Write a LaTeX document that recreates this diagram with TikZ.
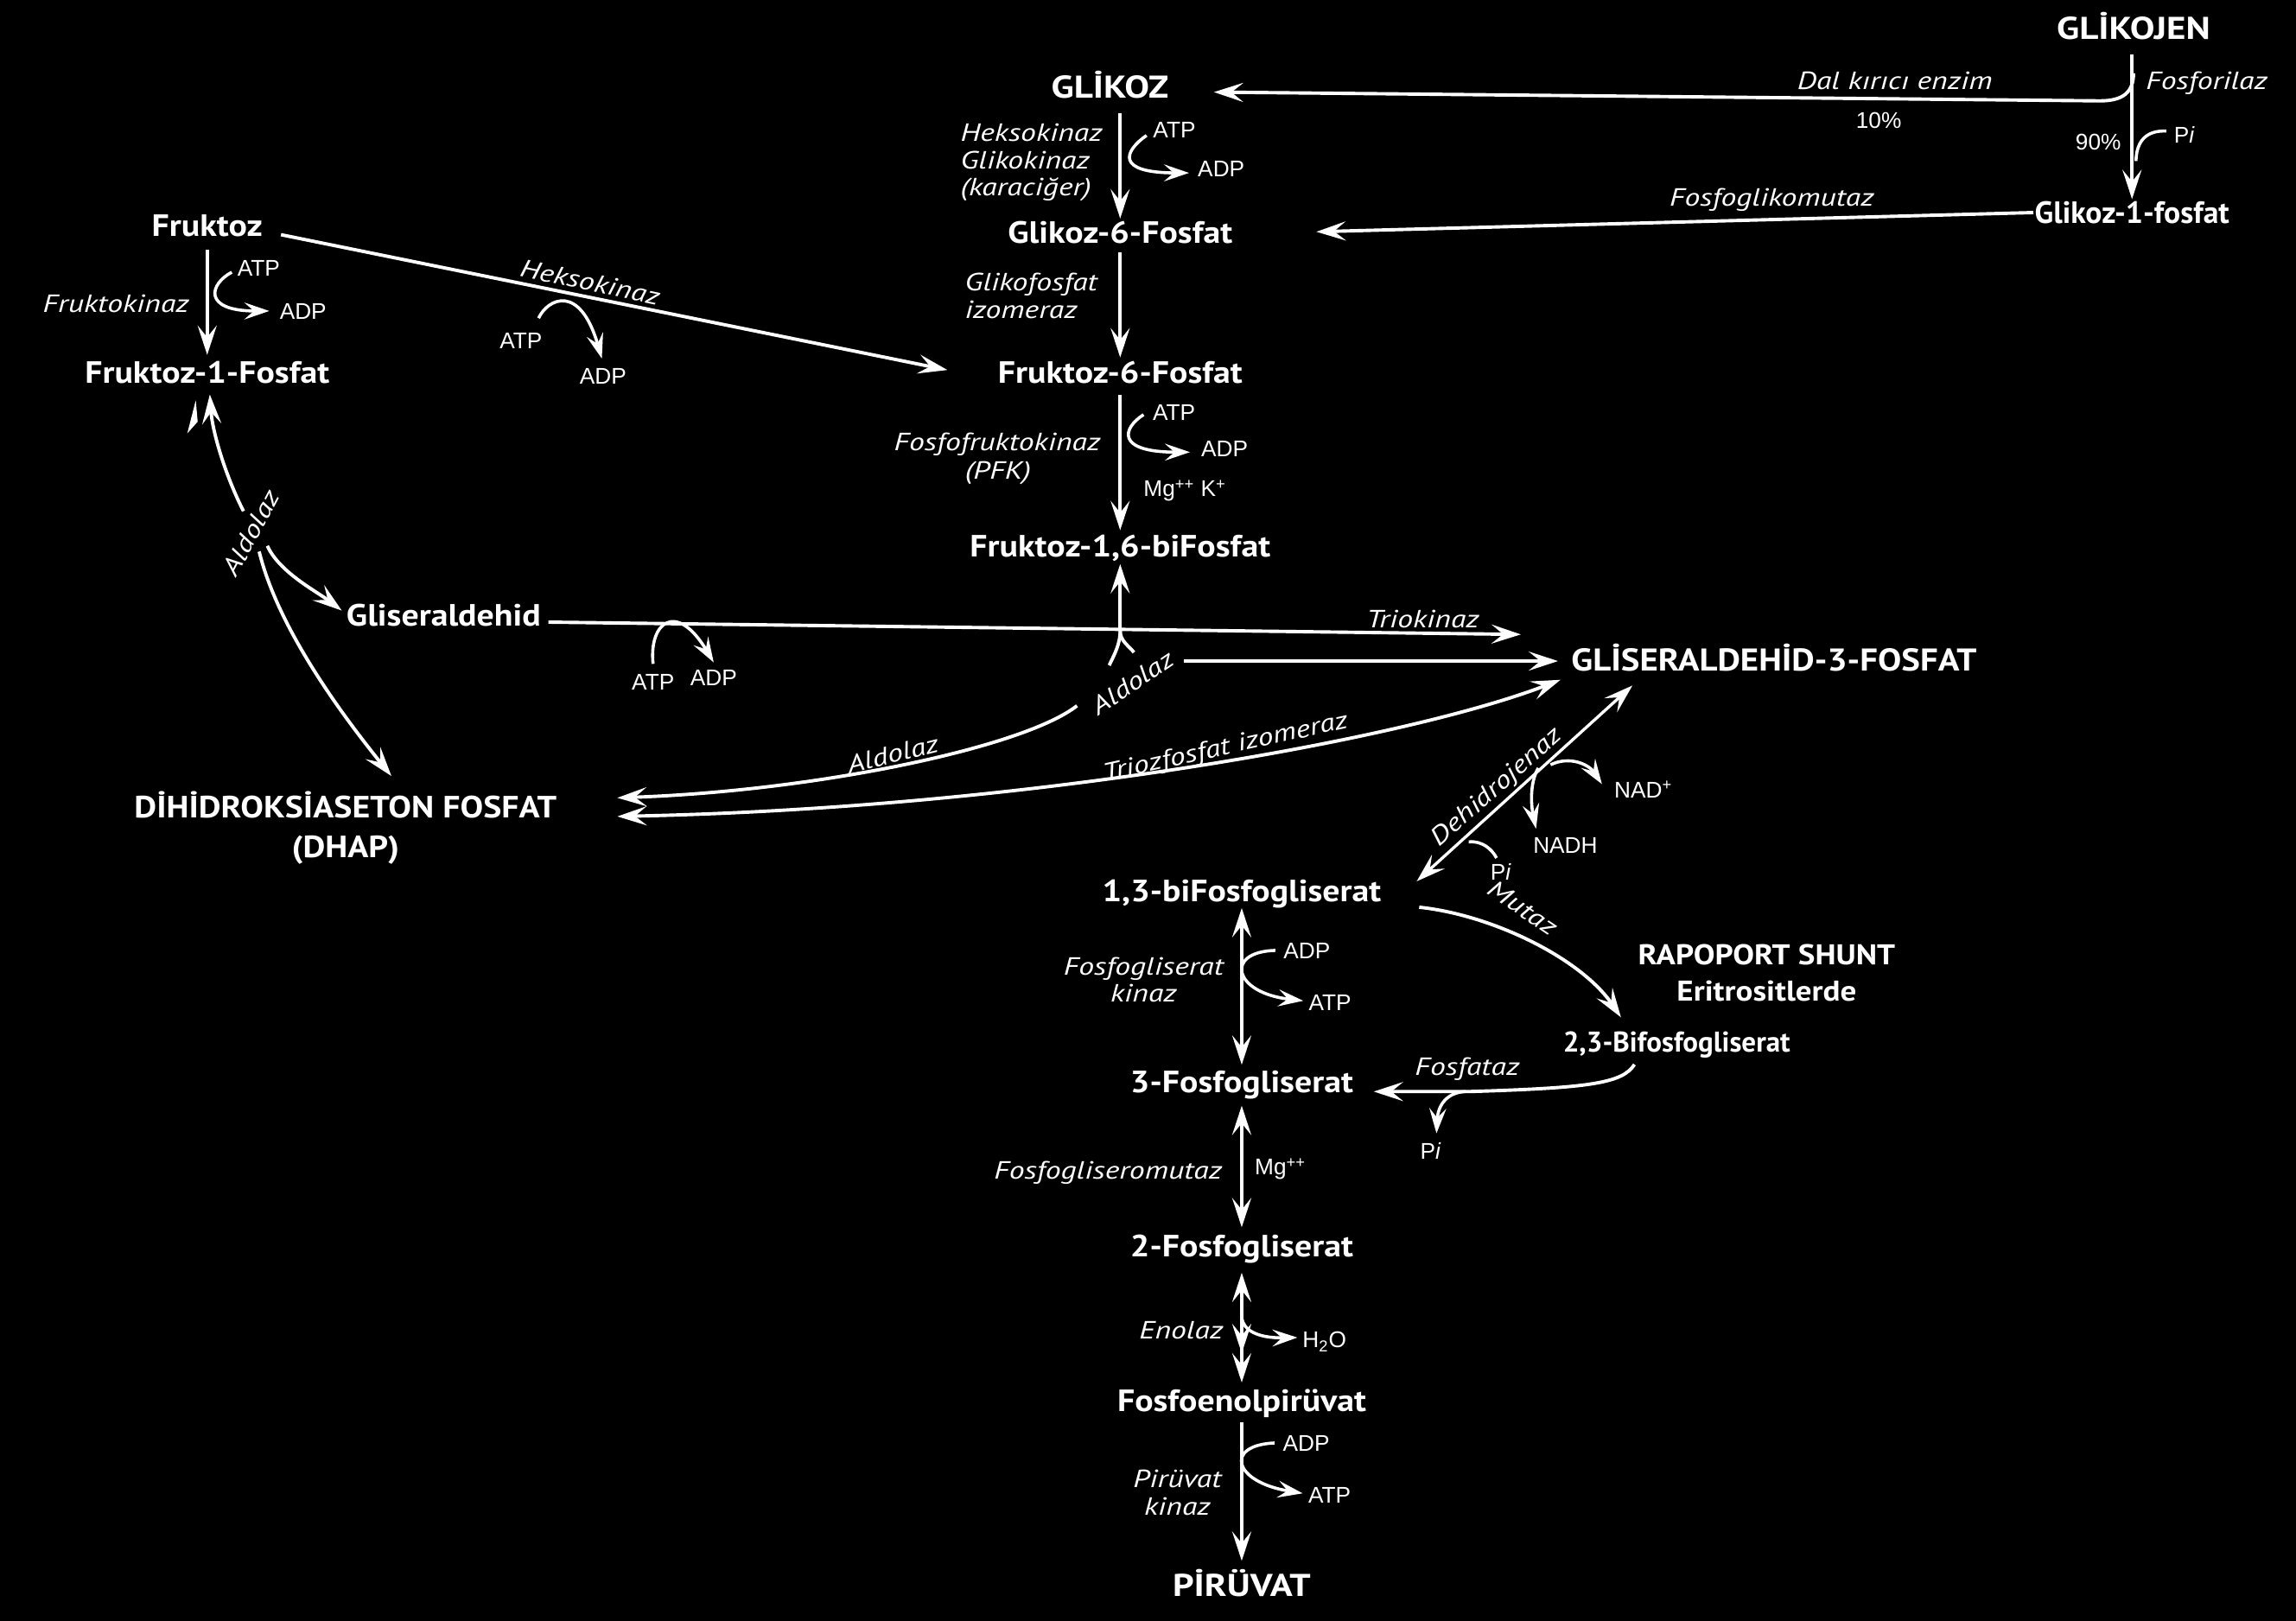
\documentclass[tikz,border=0pt]{standalone}
\usepackage{fontspec}
\setmainfont{PT Sans}
\newfontfamily\bigfont{PT Sans}[FakeStretch=1.18]
\newfontfamily\metfont{PT Sans}[FakeStretch=1.12]
\newfontfamily\enzfont{PT Sans}[FakeStretch=1.24]
\newfontfamily\chemfont{Liberation Sans}
\usetikzlibrary{arrows.meta,calc}
\begin{document}
\begin{tikzpicture}[x=1pt,y=1pt,
 txt/.style={text=white, inner sep=0pt, outer sep=0pt, anchor=base},
 big/.style={txt, font=\bigfont\bfseries\fontsize{21.5}{24}\selectfont},
 met/.style={txt, font=\metfont\bfseries\fontsize{21}{24}\selectfont},
 metl/.style={txt, font=\metfont\bfseries\fontsize{21.5}{24}\selectfont},
 smet/.style={txt, font=\bfseries\fontsize{21}{24}\selectfont},
 smet2/.style={txt, font=\bfseries\fontsize{19.5}{22}\selectfont},
 rapst/.style={txt, font=\metfont\bfseries\fontsize{19.5}{22}\selectfont},
 enz/.style={txt, font=\enzfont\itshape\fontsize{17}{19}\selectfont},
 chem/.style={txt, font=\chemfont\fontsize{15.5}{17}\selectfont},
 ln/.style={draw=white, line width=2.3pt},
 sln/.style={draw=white, line width=2.1pt},
 arr/.style={ln, -{Stealth[length=20pt,width=13pt,inset=8pt]}},
 darr/.style={ln, {Stealth[length=20pt,width=13pt,inset=8pt]}-{Stealth[length=20pt,width=13pt,inset=8pt]}},
 ddarr/.style={ln, {Stealth[length=20pt,width=13pt,inset=8pt]}-{Stealth[length=20pt,width=13pt,inset=8pt]Stealth[length=20pt,width=13pt,inset=8pt]}},
 sarr/.style={sln, -{Stealth[length=17pt,width=11.5pt,inset=6.5pt]}},
]
\fill[black] (0,0) rectangle (1568,-1107);
\useasboundingbox (0,0) rectangle (1568,-1107);

% ---------- metabolites
\node[big] (glikojen) at (1457,-26.6) {GLİKOJEN};
\node[big] (glikoz) at (758,-66.9) {GLİKOZ};
\node[smet] (g1p) at (1456,-152.5) {Glikoz-1-fosfat};
\node[met] (g6p) at (765,-166.2) {Glikoz-6-Fosfat};
\node[met] (f6p) at (765,-261.6) {Fruktoz-6-Fosfat};
\node[met] (f16bp) at (765,-380.6) {Fruktoz-1,6-biFosfat};
\node[met] (fruktoz) at (141.5,-161.3) {Fruktoz};
\node[met] (f1p) at (141.5,-261.6) {Fruktoz-1-Fosfat};
\node[met] (glis) at (303,-427.8) {Gliseraldehid};
\node[txt, font=\metfont\bfseries\fontsize{21}{24}\selectfont] (dhap) at (236,-558.6) {DİHİDROKSİASETON FOSFAT};
\node[txt, font=\metfont\bfseries\fontsize{21}{24}\selectfont] (dhap2) at (236,-586) {(DHAP)};
\node[metl] (g3p) at (1211.5,-458) {GLİSERALDEHİD-3-FOSFAT};
\node[met] (bpg13) at (848,-615.7) {1,3-biFosfogliserat};
\node[rapst] (rap1) at (1206.5,-658.9) {RAPOPORT SHUNT};
\node[rapst] (rap2) at (1206.5,-683.7) {Eritrositlerde};
\node[smet2] (bpg23) at (1145,-718.3) {2,3-Bifosfogliserat};
\node[met] (pg3) at (848,-746.5) {3-Fosfogliserat};
\node[met] (pg2) at (848,-858.6) {2-Fosfogliserat};
\node[met] (pep) at (848,-963.7) {Fosfoenolpirüvat};
\node[big] (pyr) at (848,-1090.5) {PİRÜVAT};

% ---------- enzymes and cofactors
\node[enz] (dal) at (1294,-61) {Dal kırıcı enzim};
\node[chem] (p10) at (1283,-87.5) {10\%};
\node[enz] (fosforilaz) at (1507,-61) {Fosforilaz};
\node[chem] (p90) at (1433,-102.3) {90\%};
\node[chem] (pi1) at (1491.7,-97.4) {P\textit{i}};
\node[enz] (fgm) at (1210,-140.6) {Fosfoglikomutaz};
\node[enz, anchor=base west] (hk1) at (656,-96.4) {Heksokinaz};
\node[enz, anchor=base west] (hk1b) at (656,-115.1) {Glikokinaz};
\node[enz, anchor=base west] (hk1c) at (656,-133.8) {(karaciğer)};
\node[chem] (atp1) at (802,-94.4) {ATP};
\node[chem] (adp1) at (834,-120.4) {ADP};
\node[enz, anchor=base west] (gpi1) at (659,-198.7) {Glikofosfat};
\node[enz, anchor=base west] (gpi2) at (659,-217.4) {izomeraz};
\node[enz] (pfk1) at (681,-307.8) {Fosfofruktokinaz};
\node[enz] (pfk2) at (681.6,-327.5) {(PFK)};
\node[chem] (atp2) at (801.8,-287.2) {ATP};
\node[chem] (adp2) at (836.3,-311.7) {ADP};
\node[chem, anchor=base west] (mgk) at (781,-339.3) {Mg\textsuperscript{++} K\textsuperscript{+}};
\node[enz] (trio) at (971.7,-428.5) {Triokinaz};
\node[chem] (atp3) at (446,-471) {ATP};
\node[chem] (adp3) at (487.4,-468.1) {ADP};
\node[enz, anchor=center, rotate=34] (ald2) at (773.5,-466.2) {Aldolaz};
\node[enz, anchor=center, rotate=14] (ald3) at (609.6,-515) {Aldolaz};
\node[enz, anchor=center, rotate=12.4] (tpi) at (837,-511) {Triozfosfat izomeraz};
\node[enz, anchor=center, rotate=41.6] (dh) at (1022.5,-538) {Dehidrojenaz};
\node[chem, anchor=base west] (nad) at (1102.5,-545) {NAD\textsuperscript{+}};
\node[chem] (nadh) at (1069,-583) {NADH};
\node[chem] (pi2) at (1025,-601) {P\textit{i}};
\node[enz, anchor=center, rotate=-34] (mutaz) at (1040,-620) {Mutaz};
\node[enz] (fosfataz) at (1002,-734.4) {Fosfataz};
\node[chem] (pi3) at (977,-791.7) {P\textit{i}};
\node[enz] (pgk1) at (781,-665.8) {Fosfogliserat};
\node[enz] (pgk2) at (781,-684.5) {kinaz};
\node[chem] (adp6) at (892.5,-654.6) {ADP};
\node[chem] (atp6) at (908.3,-690.4) {ATP};
\node[enz] (pgm) at (756.7,-805.5) {Fosfogliseromutaz};
\node[chem, anchor=base west] (mg2) at (857,-802.5) {Mg\textsuperscript{++}};
\node[enz] (enolaz) at (806.6,-914.6) {Enolaz};
\node[chem, anchor=base west] (h2o) at (889.6,-920.5) {H\textsubscript{2}O};
\node[enz] (pk1) at (804,-1016) {Pirüvat};
\node[enz] (pk2) at (804,-1034.6) {kinaz};
\node[chem] (adp7) at (892,-991.4) {ADP};
\node[chem] (atp7) at (908,-1026.8) {ATP};
\node[enz] (fk) at (79.2,-213.4) {Fruktokinaz};
\node[chem] (atp4) at (176.7,-188.8) {ATP};
\node[chem] (adp4) at (207,-218.3) {ADP};
\node[enz, anchor=center, rotate=-12] (hk2) at (403,-192.8) {Heksokinaz};
\node[chem] (atp5) at (355.8,-238) {ATP};
\node[chem] (adp5) at (411.8,-262.6) {ADP};
\node[enz, anchor=center, rotate=62] (ald1) at (171.3,-363.9) {Aldolaz};

% ---------- free ends
\coordinate (gjb) at (1457,-50);
\coordinate (gjc) at (1434,-68.9);
\coordinate (glktip) at (829,-62.9);
\coordinate (pi1s) at (1479.4,-89.5);
\coordinate (pi1e) at (1458.7,-110);
\coordinate (fgmtip) at (899,-158.3);
\coordinate (c1s) at (783,-92.5);
\coordinate (c1t) at (812,-118.1);
\coordinate (c2s) at (781,-283.2);
\coordinate (c2t) at (812.6,-308.8);
\coordinate (c4s) at (158.3,-185.9);
\coordinate (c4t) at (183.9,-212.4);
\coordinate (hk0) at (191.9,-160.3);
\coordinate (hktip) at (647,-252.7);
\coordinate (c5s) at (367.8,-217.3);
\coordinate (c5t) at (411,-244.9);
\coordinate (ald1a) at (166.3,-349.1);
\coordinate (f1ptip) at (143.3,-269.5);
\coordinate (ald1b) at (182.6,-372.8);
\coordinate (glistip) at (233.4,-417);
\coordinate (ald1c) at (177,-376.7);
\coordinate (dhtipA) at (267.3,-530);
\coordinate (triostart) at (374.5,-424.9);
\coordinate (triotip) at (1038.6,-433.3);
\coordinate (c3s) at (446,-453.4);
\coordinate (c3t) at (487.4,-452.4);
\coordinate (yj) at (765,-430.8);
\coordinate (yl) at (757.5,-454.4);
\coordinate (yr) at (774.4,-445.6);
\coordinate (ald2s) at (808.3,-451.5);
\coordinate (g3pw) at (1064,-451.5);
\coordinate (ald3s) at (735.5,-482);
\coordinate (dhtipB) at (421.6,-544.9);
\coordinate (dhtipC) at (421.6,-557.6);
\coordinate (g3ptipT) at (1065.7,-464.3);
\coordinate (g3ptipD) at (1114.8,-468.2);
\coordinate (bpgtipD) at (967.5,-601.9);
\coordinate (nad0) at (1058.9,-522.3);
\coordinate (nadtip) at (1094,-535.5);
\coordinate (nadh0) at (1050.5,-524.5);
\coordinate (nadhtip) at (1049,-566);
\coordinate (pi2a) at (1003,-575);
\coordinate (pi2b) at (1022,-586);
\coordinate (mut0) at (969.2,-619.6);
\coordinate (muttip) at (1107,-694.8);
\coordinate (fos0) at (1116.2,-727);
\coordinate (fosj) at (1003.6,-745.5);
\coordinate (fostip) at (938.2,-745.5);
\coordinate (pi3a) at (1001,-745.5);
\coordinate (pi3tip) at (981,-774);
\coordinate (c6s) at (871,-649.1);
\coordinate (c6t) at (890,-683.5);
\coordinate (enb) at (848,-900);
\coordinate (c8t) at (886,-913.5);
\coordinate (c7s) at (870.4,-985.5);
\coordinate (c7t) at (889.6,-1019.9);

% ---------- glycogen
\draw[arr, shorten <=10pt, shorten >=1.5pt] (glikojen.south -| g1p) -- (g1p.north);
\draw[arr] (gjb) .. controls (1457,-63) and (1450,-68.9) .. (gjc) -- (glktip);
\draw[sln] (pi1s) .. controls (1466,-89) and (1459,-96) .. (pi1e);
\draw[arr, shorten <=1pt] (g1p.west) -- (fgmtip);

% ---------- upper column
\draw[arr, shorten <=10pt, shorten >=2pt] (glikoz.south -| g6p) -- (g6p.north);
\draw[sarr] (c1s) .. controls (768,-103) and (761,-118) .. (c1t);
\draw[arr, shorten <=6pt, shorten >=2.5pt] (g6p) -- (f6p);
\draw[arr, shorten <=8pt, shorten >=3.5pt] (f6p) -- (f16bp);
\draw[sarr] (c2s) .. controls (767,-292) and (761,-308.8) .. (c2t);

% ---------- aldolase / trioses
\draw[arr, shorten >=1.5pt] (yj) -- (f16bp.south);
\draw[ln] (yj) .. controls (765,-440) and (761,-447) .. (yl);
\draw[ln] (yj) .. controls (765,-438) and (771,-441) .. (yr);
\draw[arr] (ald2s) -- (g3pw);
\draw[arr] (ald3s) .. controls (700,-510) and (560,-540) .. (dhtipB);
\draw[darr] (dhtipC) .. controls (700,-552) and (960,-505) .. (g3ptipT);
\draw[arr] (triostart) -- (triotip);
\draw[sarr] (c3s) .. controls (443,-425) and (462,-410) .. (c3t);

% ---------- dehydrogenase, rapoport
\draw[darr, line width=2pt] (bpgtipD) -- (g3ptipD);
\draw[sarr] (nad0) .. controls (1072,-516) and (1085,-522) .. (nadtip);
\draw[sarr] (nadh0) .. controls (1044,-536) and (1046,-552) .. (nadhtip);
\draw[sln] (pi2a) .. controls (1012,-574) and (1019,-580) .. (pi2b);
\draw[arr] (mut0) .. controls (1020,-625) and (1080,-655) .. (muttip);
\draw[arr] (fos0) .. controls (1108,-740) and (1085,-743) .. (fosj) -- (fostip);
\draw[sarr] (pi3a) .. controls (988,-746) and (982,-755) .. (pi3tip);

% ---------- lower column
\draw[darr, shorten >=4.4pt] (bpg13) -- (pg3);
\draw[sarr] (c6s) .. controls (836,-650) and (842,-678) .. (c6t);
\draw[darr, shorten <=4.2pt, shorten >=5.4pt] (pg3) -- (pg2);
\draw[ddarr, shorten <=6.2pt, shorten >=4.4pt] (pg2) -- (pep);
\draw[sarr] (enb) .. controls (849,-908) and (858,-914) .. (c8t);
\draw[arr, shorten <=3.4pt, shorten >=6pt] (pep) -- (pyr);
\draw[sarr] (c7s) .. controls (836,-987) and (842,-1012) .. (c7t);

% ---------- fructose
\draw[arr, shorten <=9pt, shorten >=4.3pt] (fruktoz) -- (f1p);
\draw[sarr] (c4s) .. controls (143,-194) and (138,-212.4) .. (c4t);
\draw[arr] (hk0) -- (hktip);
\draw[sarr] (c5s) .. controls (374,-204) and (396,-193) .. (c5t);
\draw[arr] (ald1a) .. controls (154,-325) and (145,-295) .. (f1ptip);
\fill[white] (133.7,-273.4) -- (127.9,-296) -- (135,-288) -- cycle;
\draw[arr] (ald1b) .. controls (190.6,-390.8) and (216.4,-404) .. (glistip);
\draw[arr] (ald1c) .. controls (190,-430) and (235,-490) .. (dhtipA);
\end{tikzpicture}
\end{document}
